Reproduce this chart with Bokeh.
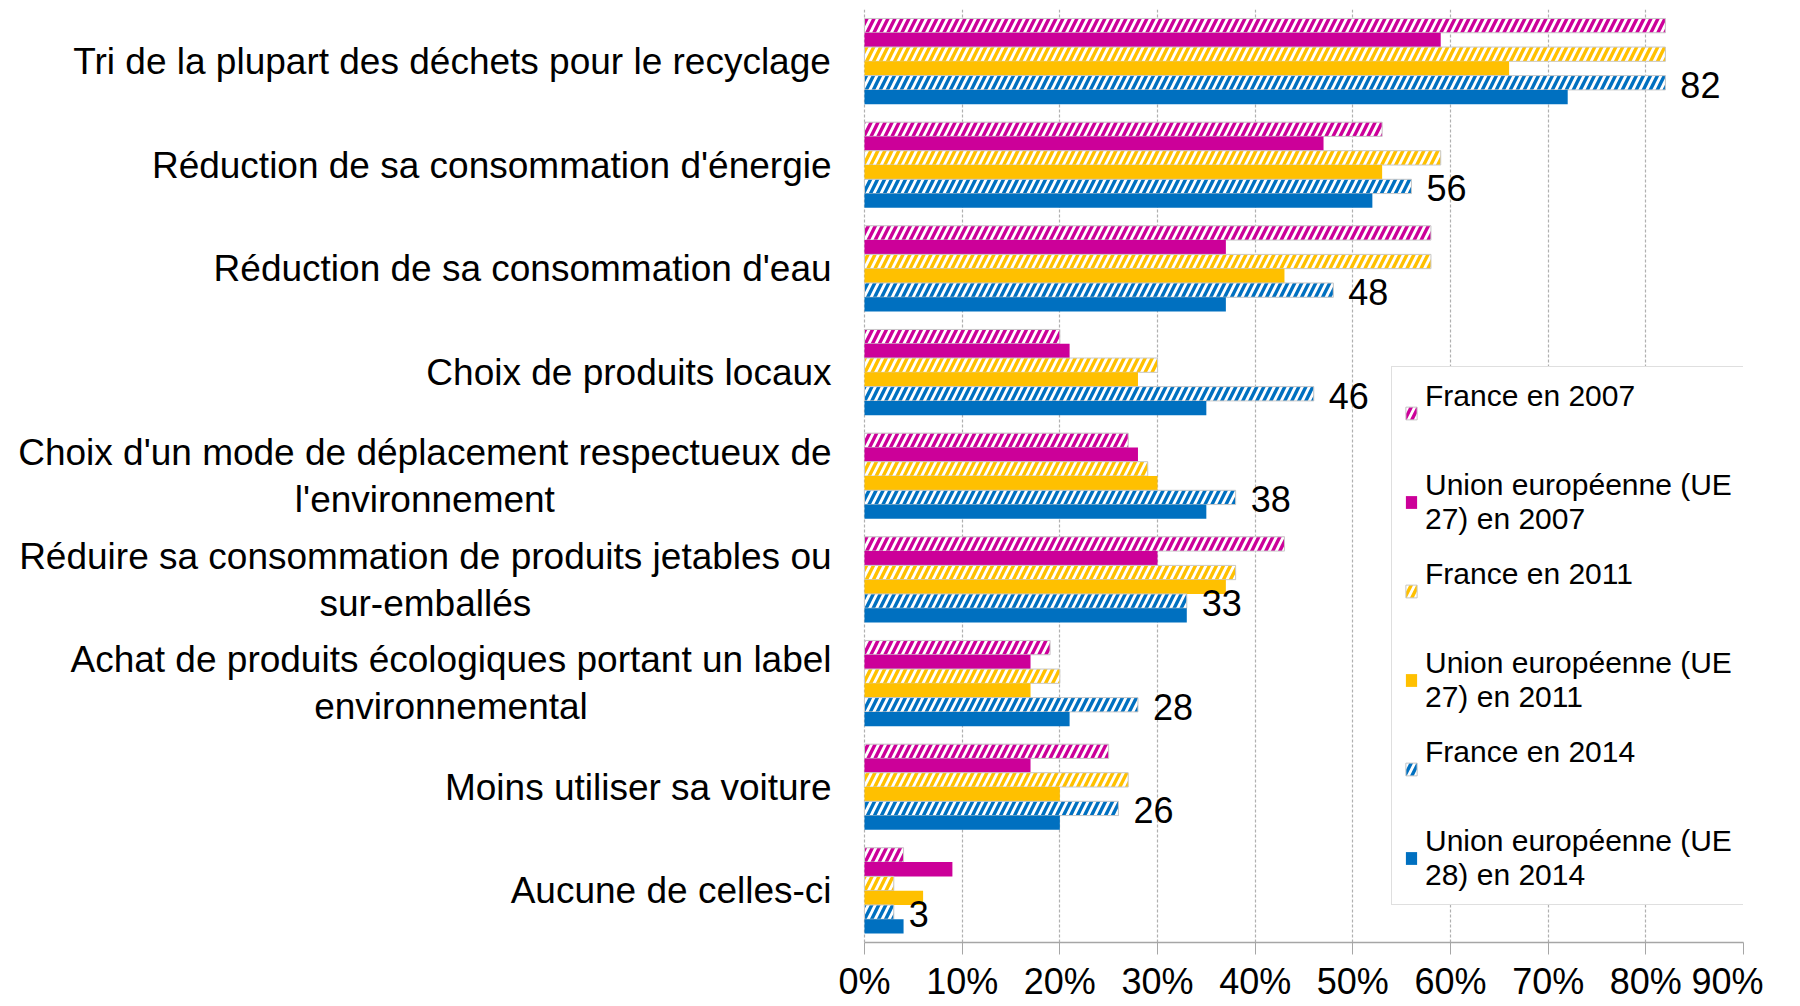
import numpy as np
from bokeh.plotting import figure
from bokeh.models import (Range1d, FixedTicker, PrintfTickFormatter, Legend, LegendItem,
                          ColumnDataSource)
from bokeh.core.properties import value
from bokeh.embed import file_html
from bokeh.resources import INLINE

categories = [
    "Tri de la plupart des déchets pour le recyclage",
    "Réduction de sa consommation d'énergie",
    "Réduction de sa consommation d'eau",
    "Choix de produits locaux",
    "Choix d'un mode de déplacement respectueux de\nl'environnement",
    "Réduire sa consommation de produits jetables ou\nsur-emballés",
    "Achat de produits écologiques portant un label\nenvironnemental",
    "Moins utiliser sa voiture",
    "Aucune de celles-ci",
]

series_names = [
    "France en 2007",
    "Union européenne (UE\n27) en 2007",
    "France en 2011",
    "Union européenne (UE\n27) en 2011",
    "France en 2014",
    "Union européenne (UE\n28) en 2014",
]

france_2007 = [82, 53, 58, 20, 27, 43, 19, 25, 4]
ue27_2007 = [59, 47, 37, 21, 28, 30, 17, 17, 9]
france_2011 = [82, 59, 58, 30, 29, 38, 20, 27, 3]
ue27_2011 = [66, 53, 43, 28, 30, 37, 17, 20, 6]
france_2014 = [82, 56, 48, 46, 38, 33, 28, 26, 3]
ue28_2014 = [72, 52, 37, 35, 35, 33, 21, 20, 4]

x_ticks = [0, 10, 20, 30, 40, 50, 60, 70, 80, 90]

series_values = [france_2007, ue27_2007, france_2011, ue27_2011, france_2014, ue28_2014]
colors = ["#CC0099", "#CC0099", "#FFC000", "#FFC000", "#0070C0", "#0070C0"]
hatched = [True, False, True, False, True, False]

FONT = "Liberation Sans"
CAT_FONT_PX = 37

# Liberation Sans (Arial-metric) advance widths, per 1000 em, to centre wrapped lines
ARIAL_W = {
    " ": 278, "'": 191, "-": 333, "(": 333, ")": 333,
    "A": 667, "C": 722, "E": 667, "M": 833, "R": 722, "T": 611, "U": 722,
    "a": 556, "b": 556, "c": 500, "d": 556, "e": 556, "é": 556, "è": 556, "f": 278,
    "g": 556, "h": 556, "i": 222, "j": 222, "k": 500, "l": 222, "m": 833, "n": 556,
    "o": 556, "p": 556, "q": 556, "r": 333, "s": 500, "t": 278, "u": 556, "v": 500,
    "w": 722, "x": 500, "y": 500, "z": 500,
}


def text_width(s, px):
    return sum(ARIAL_W.get(ch, 556) for ch in s) * px / 1000.0


n_cat = len(categories)
n_ser = len(series_values)
group_frac = 0.827
bar_h = group_frac / n_ser

# layout: the frame spans the label area too; value 0 sits at LEFT px
LEFT = 864
PLOT_W = 879
XMAX = x_ticks[-1]
px_per_unit = PLOT_W / XMAX
x_start = -LEFT / px_per_unit

p = figure(
    width=LEFT + PLOT_W + 20, height=1004,
    x_range=Range1d(x_start, XMAX), y_range=Range1d(n_cat, 0),
    output_backend="svg", toolbar_location=None,
    min_border_left=0, min_border_right=20, min_border_top=9, min_border_bottom=10,
)
p.outline_line_color = None
p.background_fill_color = "white"
p.border_fill_color = "white"

centers = np.arange(n_cat) + 0.5
items = []
for j, (vals, col, hat, name) in enumerate(zip(series_values, colors, hatched, series_names)):
    ys = centers - group_frac / 2 + bar_h * (j + 0.5)
    src = ColumnDataSource(dict(y=ys, right=vals))
    if hat:
        r = p.hbar(y="y", right="right", left=0, height=bar_h, source=src,
                   fill_color=col, line_color="#C8C8C8", line_width=1,
                   hatch_pattern="/", hatch_color="white", hatch_weight=2.8, hatch_scale=14)
    else:
        r = p.hbar(y="y", right="right", left=0, height=bar_h, source=src,
                   fill_color=col, line_color=None)
    label = name if "\n" in name else name + "\n "
    items.append(LegendItem(label=label, renderers=[r]))
    if j == 4:
        lab = ColumnDataSource(dict(x=vals, y=ys, t=[str(v) for v in vals]))
        p.text(x="x", y="y", text="t", source=lab, x_offset=15, y_offset=2,
               text_baseline="middle", text_align="left", text_font=value(FONT),
               text_font_size="36px", text_color="black")

# category labels: block right-aligned 33px left of the value axis, wrapped lines centred
gap = 33
lab_x = []
for lab in categories:
    w = max(text_width(s, CAT_FONT_PX) for s in lab.split("\n"))
    lab_x.append(-(gap + w / 2) / px_per_unit)
cat_src = ColumnDataSource(dict(x=lab_x, y=centers, t=categories))
p.text(x="x", y="y", text="t", source=cat_src, text_align="center", text_baseline="middle",
       text_font=value(FONT), text_font_size=f"{CAT_FONT_PX}px", text_color="black",
       text_line_height=1.14)

# x axis
p.xaxis.ticker = FixedTicker(ticks=x_ticks)
p.xaxis.bounds = (0, XMAX)
p.xaxis.formatter = PrintfTickFormatter(format="%d%%")
p.xaxis.major_label_text_font = FONT
p.xaxis.major_label_text_font_size = "36px"
p.xaxis.major_label_text_color = "black"
p.xaxis.axis_line_color = "#A6A6A6"
p.xaxis.axis_line_width = 1.5
p.xaxis.major_tick_line_color = "#A6A6A6"
p.xaxis.major_tick_out = 12
p.xaxis.major_tick_in = 0
p.xaxis.minor_tick_line_color = None
p.xaxis.major_label_standoff = 6

p.yaxis.visible = False

p.ygrid.grid_line_color = None
p.xgrid.ticker = FixedTicker(ticks=x_ticks)
p.xgrid.grid_line_color = "#B0B0B0"
p.xgrid.grid_line_dash = "3 2"
p.xgrid.grid_line_width = 1.2

legend = Legend(items=items, location=(LEFT + PLOT_W - 352, 37))
legend.label_text_font = FONT
legend.label_text_font_size = "30px"
legend.label_text_line_height = 1.15
legend.label_text_color = "black"
legend.glyph_width = 14
legend.glyph_height = 16
legend.label_standoff = 7
legend.padding = 12
legend.spacing = 21
legend.margin = 0
legend.border_line_color = "#BFBFBF"
legend.border_line_width = 1
legend.background_fill_color = "white"
legend.background_fill_alpha = 1
p.add_layout(legend)

open("out.html", "w").write(file_html(p, INLINE))
